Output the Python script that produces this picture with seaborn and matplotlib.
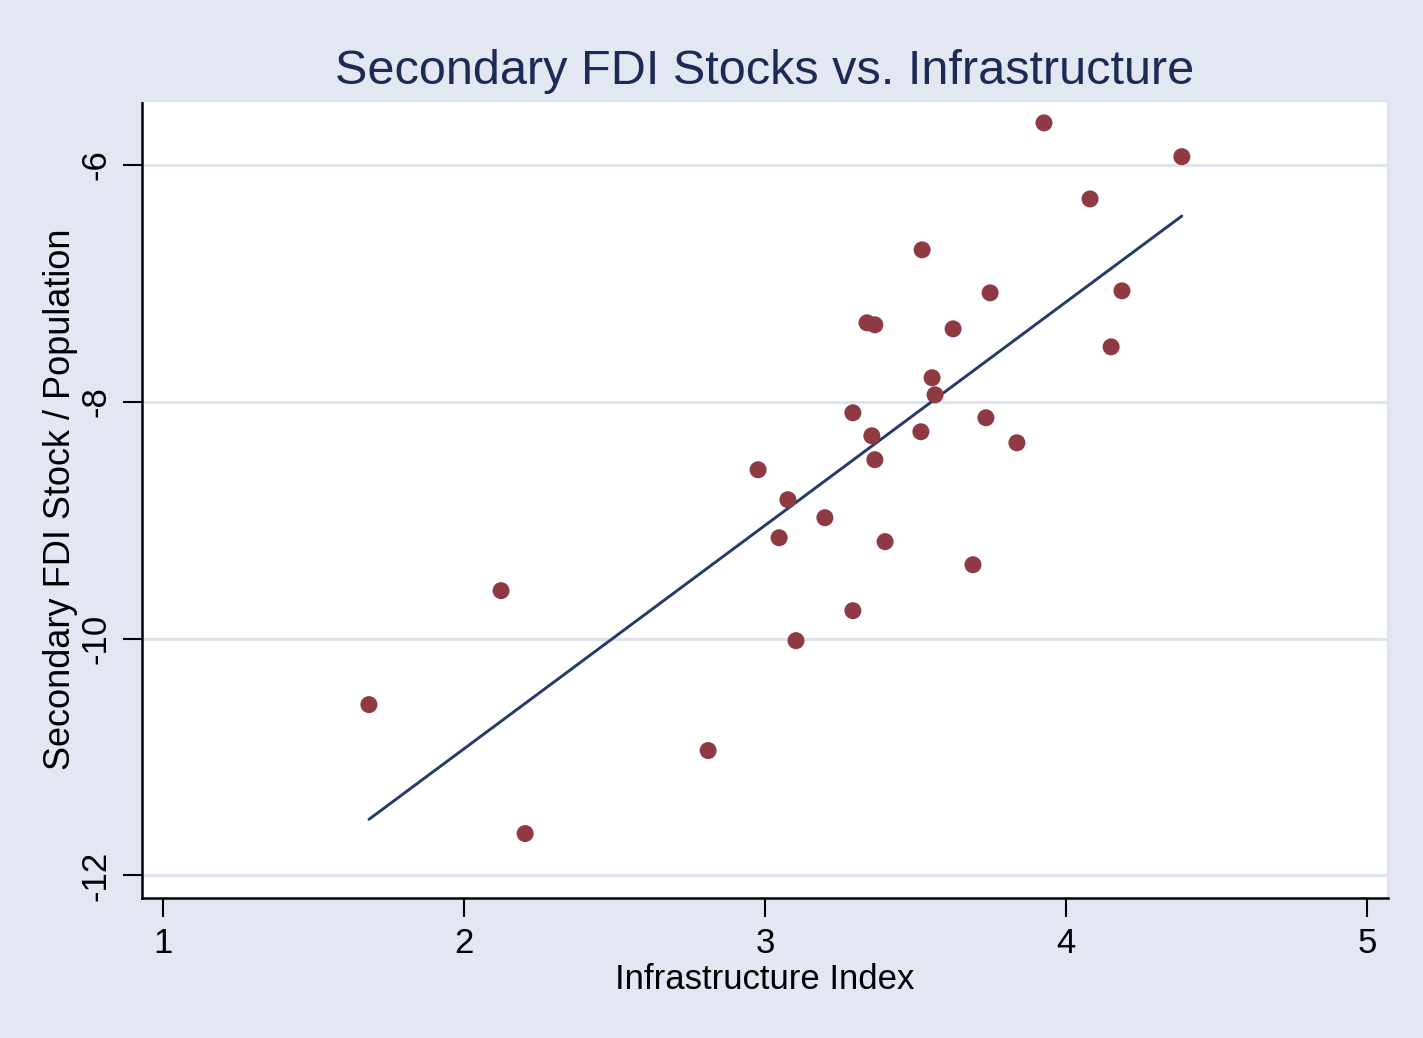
import numpy as np
import pandas as pd
import matplotlib
matplotlib.use('Agg')
import matplotlib.pyplot as plt
import seaborn as sns

infra = [3.927, 4.385, 4.080, 3.522, 3.748, 4.186, 3.339, 3.365, 3.625, 4.150,
         3.555, 3.565, 3.292, 3.734, 3.355, 3.518, 3.837, 3.365, 2.977, 3.076,
         3.199, 3.047, 3.399, 3.691, 2.123, 3.292, 3.103, 1.684, 2.811, 2.203]
fdi = [-5.645, -5.930, -6.287, -6.717, -7.080, -7.063, -7.333, -7.350, -7.384, -7.536,
       -7.797, -7.941, -8.093, -8.135, -8.287, -8.253, -8.346, -8.489, -8.574, -8.827,
       -8.979, -9.148, -9.181, -9.376, -9.595, -9.764, -10.017, -10.557, -10.945, -11.646]
x_ticks = [1, 2, 3, 4, 5]
y_ticks = [-12, -10, -8, -6]

bg = '#E2E7F1'
grid_col = '#DDE3EF'
dot_col = '#8F3A42'
line_col = '#243B6A'
title_col = '#1C2B55'

sns.set_theme(style='white')
plt.rcParams['font.family'] = ['Liberation Sans', 'DejaVu Sans']

df = pd.DataFrame({'infra': infra, 'fdi': fdi})

fig = plt.figure(figsize=(14.23, 10.38), dpi=100, facecolor=bg)
ax = fig.add_axes([0.0998, 0.1349, 0.8756, 0.7678])
ax.set_facecolor('white')

for yt in y_ticks:
    ax.axhline(yt, color=grid_col, lw=2.2, zorder=0)

sns.regplot(data=df, x='infra', y='fdi', ci=None, ax=ax,
            scatter_kws=dict(s=150, color=dot_col, edgecolor='none', alpha=1, zorder=3),
            line_kws=dict(color=line_col, lw=2.1, zorder=2))

ax.set_xlim(0.93, 5.07)
ax.set_ylim(-12.19, -5.46)
ax.set_xticks(x_ticks)
ax.set_yticks(y_ticks)
ax.set_xticklabels([str(v) for v in x_ticks])
ax.set_yticklabels([str(v) for v in y_ticks], rotation=90, va='center')
ax.tick_params(axis='both', direction='out', length=14, width=1.5, color='black',
               labelsize=25, labelcolor='black', pad=7, left=True, bottom=True)

for side in ['left', 'bottom']:
    ax.spines[side].set_color('black')
    ax.spines[side].set_linewidth(1.8)
for side in ['top', 'right']:
    ax.spines[side].set_color(grid_col)
    ax.spines[side].set_linewidth(1.5)

ax.set_xlabel('Infrastructure Index', fontsize=25, color='black', labelpad=2)
ax.set_ylabel('Secondary FDI Stock / Population', fontsize=26, color='black', labelpad=1)
ax.set_title('Secondary FDI Stocks vs. Infrastructure', fontsize=35, color=title_col, pad=12)

fig.savefig('out.png', dpi=100, facecolor=bg)
